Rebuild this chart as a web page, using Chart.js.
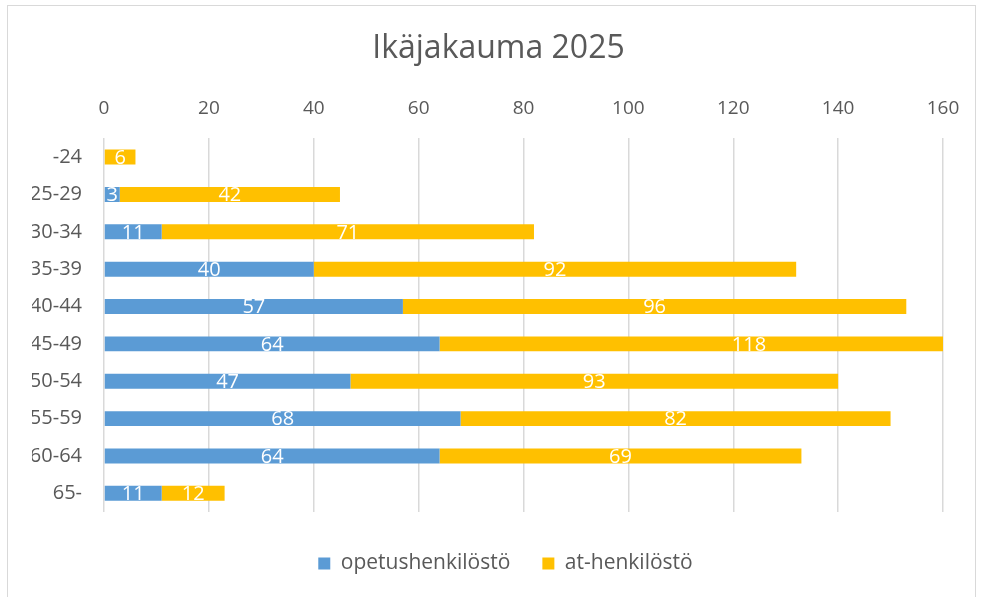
<!DOCTYPE html>
<html>
<head>
<meta charset="utf-8">
<script src="https://cdn.jsdelivr.net/npm/chart.js@4"></script>
<style>
  html, body { margin: 0; padding: 0; background: #fff; }
  #wrap { position: relative; width: 981px; height: 597px; overflow: hidden; }
  #frame { position: absolute; left: 7px; top: 5px; width: 967px; height: 620px; border: 1px solid #d9d9d9; }
  #chart { position: absolute; left: 0; top: 0; }
</style>
</head>
<body>
<div id="wrap">
  <div id="frame"></div>
  <canvas id="chart" width="981" height="597"></canvas>
</div>
<script>
const categories = ["-24", "25-29", "30-34", "35-39", "40-44", "45-49", "50-54", "55-59", "60-64", "65-"];
const opetushenkilosto = [0, 3, 11, 40, 57, 64, 47, 68, 64, 11];
const atHenkilosto = [6, 42, 71, 92, 96, 118, 93, 82, 69, 12];
const xTicks = [0, 20, 40, 60, 80, 100, 120, 140, 160];

const textColor = "#595959";
const fontFamily = "'Open Sans', Lato, sans-serif";

// white value labels in the middle of each segment
const barLabels = {
  id: "barLabels",
  afterDatasetsDraw(chart) {
    const ctx = chart.ctx;
    ctx.save();
    ctx.fillStyle = "#ffffff";
    ctx.font = "20px " + fontFamily;
    ctx.textAlign = "center";
    ctx.textBaseline = "middle";
    chart.data.datasets.forEach((ds, i) => {
      const meta = chart.getDatasetMeta(i);
      meta.data.forEach((bar, j) => {
        const v = ds.data[j];
        if (!v) return;
        const p = bar.getProps(["x", "y", "base"], true);
        ctx.fillText(String(v), (p.x + p.base) / 2, p.y + 1);
      });
    });
    ctx.restore();
  }
};

// nudge title and legend a bit right like the original
const boxShift = {
  id: "boxShift",
  beforeDraw(chart) {
    if (chart.legend && !chart.legend._shifted) {
      chart.legend.left += 18;
      chart.legend.right += 18;
      chart.legend._shifted = true;
    }
    if (chart.titleBlock && !chart.titleBlock._shifted) {
      chart.titleBlock.left += 11;
      chart.titleBlock.right += 11;
      chart.titleBlock._shifted = true;
    }
  }
};

new Chart(document.getElementById("chart"), {
  type: "bar",
  data: {
    labels: categories,
    datasets: [
      {
        label: "opetushenkilöstö",
        data: opetushenkilosto,
        backgroundColor: "#5B9BD5",
        borderWidth: 0
      },
      {
        label: "at-henkilöstö",
        data: atHenkilosto,
        backgroundColor: "#FFC000",
        borderWidth: 0
      }
    ]
  },
  options: {
    indexAxis: "y",
    responsive: false,
    animation: false,
    categoryPercentage: 1,
    barPercentage: 0.4,
    layout: { padding: { left: 32, right: 38, top: 0, bottom: 13 } },
    scales: {
      x: {
        position: "top",
        stacked: true,
        min: xTicks[0],
        max: xTicks[xTicks.length - 1],
        afterFit(scale) { scale.height = 70; },
        afterBuildTicks(scale) { scale.ticks = xTicks.map(v => ({ value: v })); },
        ticks: {
          color: textColor,
          font: { size: 19, family: fontFamily },
          padding: 18
        },
        grid: { color: "#d9d9d9", lineWidth: 1.5, drawTicks: false },
        border: { display: false }
      },
      y: {
        stacked: true,
        afterFit(scale) { scale.width = 72; },
        ticks: {
          color: textColor,
          font: { size: 20, family: fontFamily },
          padding: 22
        },
        grid: { display: false, drawTicks: false },
        border: { display: false }
      }
    },
    plugins: {
      title: {
        display: true,
        text: "Ikäjakauma 2025",
        color: textColor,
        font: { size: 32, family: fontFamily, weight: "normal" },
        padding: { top: 30, bottom: 0 }
      },
      legend: {
        position: "bottom",
        title: { display: true, text: "", font: { size: 8, lineHeight: 1 }, padding: { top: 0, bottom: 1 } },
        labels: {
          color: textColor,
          font: { size: 21, family: fontFamily },
          boxWidth: 12,
          boxHeight: 12,
          padding: 32
        }
      },
      tooltip: { enabled: false }
    }
  },
  plugins: [barLabels, boxShift]
});
</script>
</body>
</html>
